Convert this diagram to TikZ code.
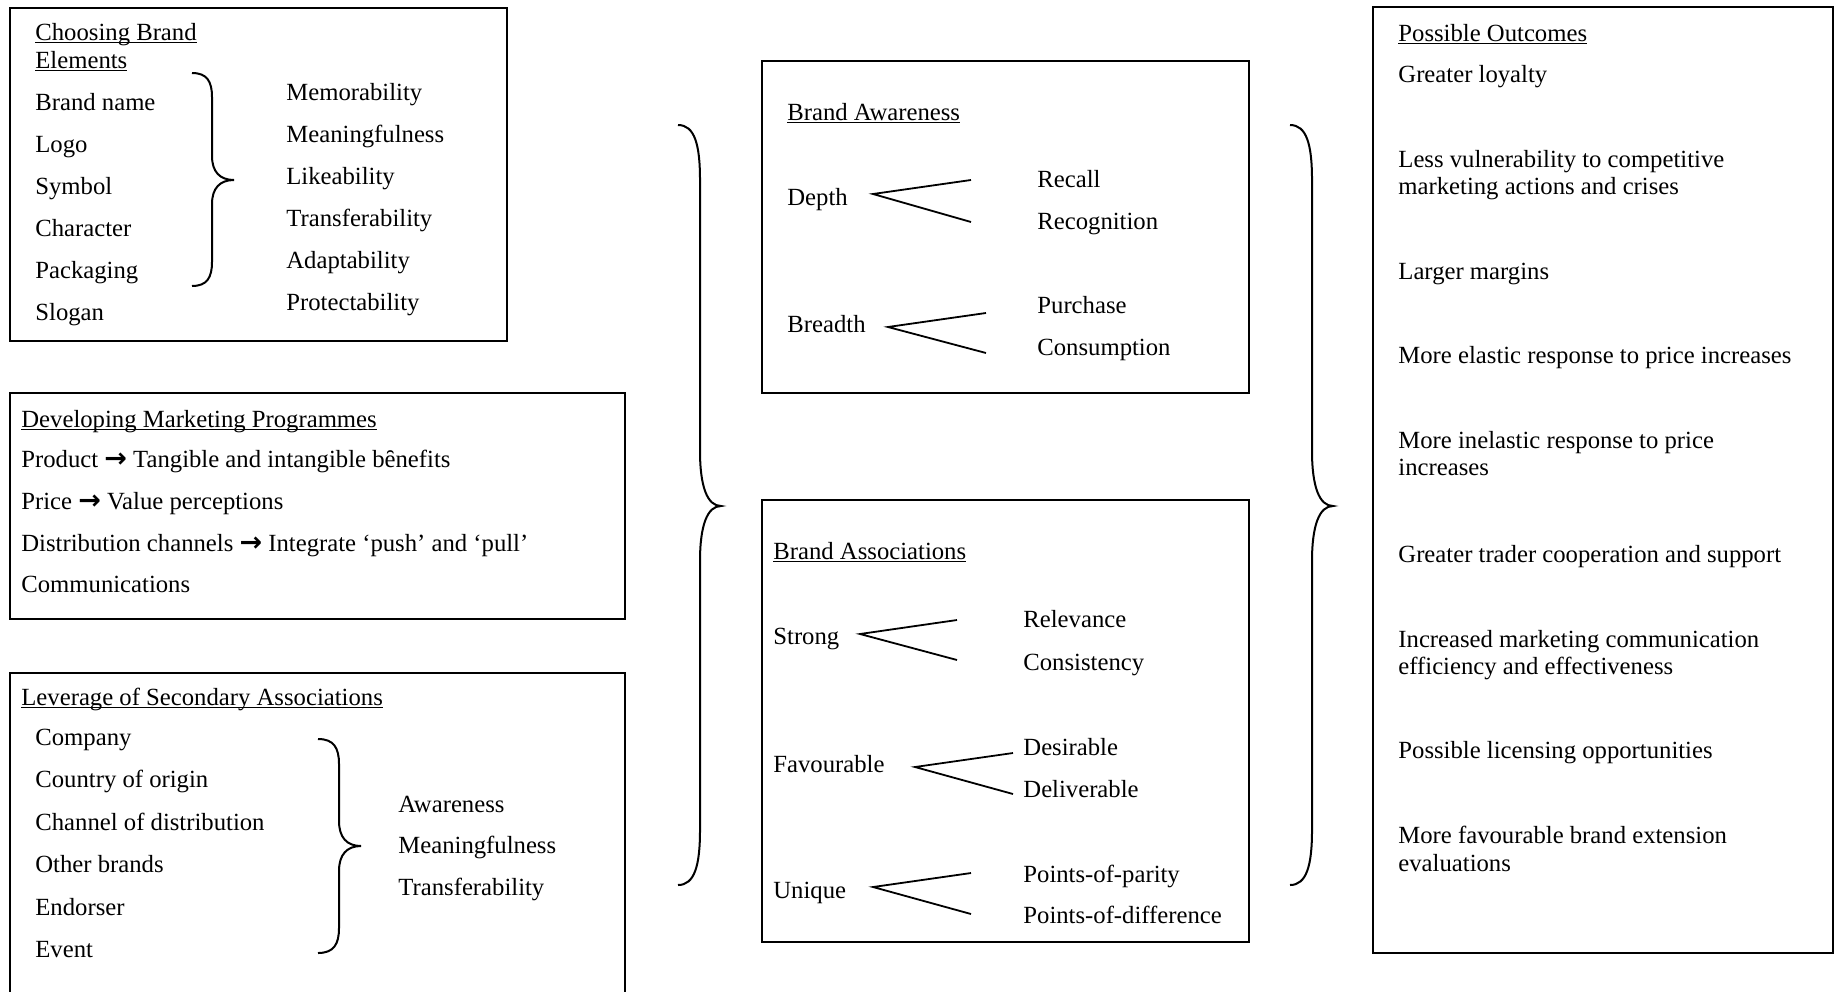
\documentclass[tikz,border=0pt]{standalone}
\usepackage{fontspec}
\setmainfont{Liberation Serif}
\newfontfamily\arrowfont{DejaVu Sans}
% underlined heading text
\newcommand\headul[1]{\setbox0\hbox{#1}\rlap{\rule[-1.7pt]{\wd0}{0.55pt}}\box0}
% arrow between a marketing element and its aim
\newcommand\ra{{\arrowfont\bfseries\fontsize{13.5}{14}\selectfont →}}
% vertical curly brace opening to the left:
% #1 end x, #2 stem x, #3 tip x, #4 top y, #5 tip y, #6 bottom y, #7 curve length
\newcommand\curlybrace[7]{%
  \draw[curly] (#1,#4) .. controls ({#1+0.75*(#2-#1)},#4) and (#2,{#4+0.35*#7}) .. (#2,{#4+#7})
    -- (#2,{#5-#7}) .. controls (#2,{#5-0.35*#7}) and ({#2+0.35*(#3-#2)},#5) .. (#3,#5)
    .. controls ({#2+0.35*(#3-#2)},#5) and (#2,{#5+0.35*#7}) .. (#2,{#5+#7})
    -- (#2,{#6-#7}) .. controls (#2,{#6-0.35*#7}) and ({#1+0.75*(#2-#1)},#6) .. (#1,#6);}
\begin{document}
\begin{tikzpicture}[x=0.5pt,y=-0.5pt,
  every node/.style={inner sep=0pt, font=\fontsize{12.35}{13.8}\selectfont},
  lbl/.style={anchor=base west},
  frame/.style={line width=1pt},
  branch/.style={line width=0.9pt},
  curly/.style={line width=1pt},
]
\useasboundingbox (0,0) rectangle (1839,991);

% ---------- Choosing Brand Elements ----------
\draw[frame] (10,8) rectangle (507,341);
\node[lbl] (cbt1) at (35,40) {\headul{Choosing Brand}};
\node[lbl] (cbt2) at (35,68) {\headul{Elements}};
\node[lbl] (cb1) at (35,110) {Brand name};
\node[lbl] (cb2) at (35,152) {Logo};
\node[lbl] (cb3) at (35,194) {Symbol};
\node[lbl] (cb4) at (35,236) {Character};
\node[lbl] (cb5) at (35,278) {Packaging};
\node[lbl] (cb6) at (35,320) {Slogan};
\curlybrace{192}{212}{234}{73}{180}{286}{24}
\node[lbl] (cc1) at (286,100) {Memorability};
\node[lbl] (cc2) at (286,142) {Meaningfulness};
\node[lbl] (cc3) at (286,184) {Likeability};
\node[lbl] (cc4) at (286,226) {Transferability};
\node[lbl] (cc5) at (286,268) {Adaptability};
\node[lbl] (cc6) at (286,310) {Protectability};

% ---------- Developing Marketing Programmes ----------
\draw[frame] (10,393) rectangle (625,619);
\node[lbl] (dmt) at (21,427) {\headul{Developing Marketing Programmes}};
\node[lbl] (dm1) at (21,467) {Product \ra\ Tangible and intangible bȇnefits};
\node[lbl] (dm2) at (21,509) {Price \ra\ Value perceptions};
\node[lbl] (dm3) at (21,551) {Distribution channels \ra\ Integrate ‘push’ and ‘pull’};
\node[lbl] (dm4) at (21,592) {Communications};

% ---------- Leverage of Secondary Associations ----------
\draw[frame] (10,1000) -- (10,673) -- (625,673) -- (625,1000);
\node[lbl] (lst) at (21,705) {\headul{Leverage of Secondary Associations}};
\node[lbl] (ls1) at (35,745) {Company};
\node[lbl] (ls2) at (35,787) {Country of origin};
\node[lbl] (ls3) at (35,830) {Channel of distribution};
\node[lbl] (ls4) at (35,872) {Other brands};
\node[lbl] (ls5) at (35,915) {Endorser};
\node[lbl] (ls6) at (35,957) {Event};
\curlybrace{318}{339}{361}{739}{846}{953}{25}
\node[lbl] (lc1) at (398,812) {Awareness};
\node[lbl] (lc2) at (398,853) {Meaningfulness};
\node[lbl] (lc3) at (398,895) {Transferability};

% ---------- braces joining the columns ----------
\curlybrace{678}{700}{721}{125}{506}{885}{55}
\curlybrace{1290}{1312}{1333}{125}{506}{885}{55}

% ---------- Brand Awareness ----------
\draw[frame] (762,61) rectangle (1249,393);
\node[lbl] (bat) at (787,120) {\headul{Brand Awareness}};
\node[lbl] (depth) at (787,205) {Depth};
\node[lbl] (breadth) at (787,332) {Breadth};
\node[lbl] (recall) at (1037,187) {Recall};
\node[lbl] (recog) at (1037,229) {Recognition};
\node[lbl] (purch) at (1037,313) {Purchase};
\node[lbl] (consum) at (1037,355) {Consumption};
\coordinate (depthtip) at (873,194);
\coordinate (depthhi) at (971,180);
\coordinate (depthlo) at (971,222);
\coordinate (breadthtip) at (888,327);
\coordinate (breadthhi) at (986,313);
\coordinate (breadthlo) at (986,353);
\draw[branch] (depthhi) -- (depthtip) -- (depthlo);
\draw[branch] (breadthhi) -- (breadthtip) -- (breadthlo);

% ---------- Brand Associations ----------
\draw[frame] (762,500) rectangle (1249,942);
\node[lbl] (bast) at (773,559) {\headul{Brand Associations}};
\node[lbl] (strong) at (773,644) {Strong};
\node[lbl] (favour) at (773,772) {Favourable};
\node[lbl] (unique) at (773,898) {Unique};
\node[lbl] (relev) at (1023,627) {Relevance};
\node[lbl] (consis) at (1023,670) {Consistency};
\node[lbl] (desir) at (1023,755) {Desirable};
\node[lbl] (deliv) at (1023,797) {Deliverable};
\node[lbl] (pop) at (1023,882) {Points-of-parity};
\node[lbl] (pod) at (1023,923) {Points-of-difference};
\coordinate (strongtip) at (860,634);
\coordinate (stronghi) at (957,620);
\coordinate (stronglo) at (957,660);
\coordinate (favtip) at (915,767);
\coordinate (favhi) at (1013,753);
\coordinate (favlo) at (1013,794);
\coordinate (uniqtip) at (873,887);
\coordinate (uniqhi) at (971,873);
\coordinate (uniqlo) at (971,914);
\draw[branch] (stronghi) -- (strongtip) -- (stronglo);
\draw[branch] (favhi) -- (favtip) -- (favlo);
\draw[branch] (uniqhi) -- (uniqtip) -- (uniqlo);

% ---------- Possible Outcomes ----------
\draw[frame] (1373,7) rectangle (1833,953);
\node[lbl] (pot) at (1398,41) {\headul{Possible Outcomes}};
\node[lbl] (po1) at (1398,82) {Greater loyalty};
\node[lbl] (po2a) at (1398,167) {Less vulnerability to competitive};
\node[lbl] (po2b) at (1398,194) {marketing actions and crises};
\node[lbl] (po3) at (1398,279) {Larger margins};
\node[lbl] (po4) at (1398,363) {More elastic response to price increases};
\node[lbl] (po5a) at (1398,448) {More inelastic response to price};
\node[lbl] (po5b) at (1398,475) {increases};
\node[lbl] (po6) at (1398,562) {Greater trader cooperation and support};
\node[lbl] (po7a) at (1398,647) {Increased marketing communication};
\node[lbl] (po7b) at (1398,674) {efficiency and effectiveness};
\node[lbl] (po8) at (1398,758) {Possible licensing opportunities};
\node[lbl] (po9a) at (1398,843) {More favourable brand extension};
\node[lbl] (po9b) at (1398,871) {evaluations};
\end{tikzpicture}
\end{document}
